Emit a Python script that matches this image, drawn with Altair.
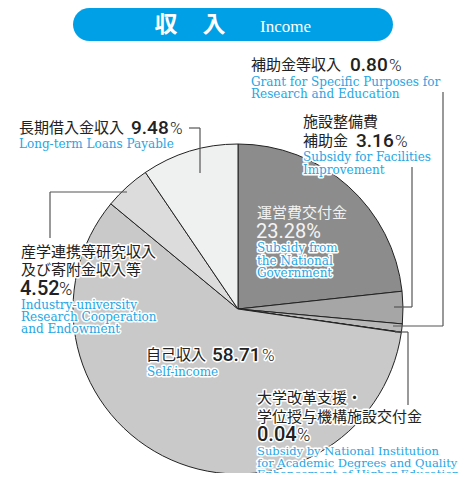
import altair as alt
import pandas as pd

# ---- data ----
cats_jp = ["運営費交付金", "施設整備費補助金", "補助金等収入", "大学改革支援・学位授与機構施設交付金",
           "自己収入", "産学連携等研究収入及び寄附金収入等", "長期借入金収入"]
values = [23.28, 3.16, 0.80, 0.04, 58.71, 4.52, 9.48]
colors = ["#8c8c8c", "#a6a6a6", "#b9b9b9", "#bdbdbd", "#c9c9c9", "#dcdcdc", "#eff0f0"]

pie_df = pd.DataFrame({"cat": cats_jp, "value": values, "order": list(range(len(values)))})

OX, OY = 8, 8  # page margin offset
CX, CY, R = 238 - OX, 309 - OY, 165

BLUE = "#25a6e4"
JP = "Noto Sans CJK JP"
NUM = "Roboto"
SERIF = "DejaVu Serif"
ES = 12  # english font size

one = pd.DataFrame({"a": [0]})
layers = []


def text(s, x, y, size, color, font, weight="normal", halo=False, align="left", baseline="middle"):
    kw = dict(text=s, fontSize=size, font=font, fontWeight=weight, align=align, baseline=baseline)
    enc = dict(x=alt.value(x - OX), y=alt.value(y - OY))
    if halo:
        layers.append(alt.Chart(one).mark_text(fill="white", stroke="white", strokeWidth=3,
                                               strokeJoin="round", **kw).encode(**enc))
    layers.append(alt.Chart(one).mark_text(fill=color, **kw).encode(**enc))


def rule(x1, y1, x2, y2):
    layers.append(alt.Chart(one).mark_rule(color="#555555", strokeWidth=1.2).encode(
        x=alt.value(x1 - OX), x2=alt.value(x2 - OX), y=alt.value(y1 - OY), y2=alt.value(y2 - OY)))


# title banner
layers.append(alt.Chart(one).mark_rect(color="#00a0e6", cornerRadius=17).encode(
    x=alt.value(73 - OX), x2=alt.value(393 - OX), y=alt.value(0), y2=alt.value(41 - OY)))
text("収", 166, 25, 23, "white", JP, weight="bold", align="center")
text("入", 214, 25, 23, "white", JP, weight="bold", align="center")
text("Income", 260, 27, 17, "white", "Liberation Serif")

# pie
pie = alt.Chart(pie_df).mark_arc(outerRadius=R, stroke="#222222", strokeWidth=1).encode(
    theta=alt.Theta("value:Q", stack=True),
    order=alt.Order("order:Q"),
    color=alt.Color("cat:N", scale=alt.Scale(domain=cats_jp, range=colors), legend=None),
    x=alt.value(CX), y=alt.value(CY),
)
layers.append(pie)

pct = [f"{v:.2f}" for v in values]

# leader lines
rule(443, 92, 443, 326)
rule(393, 326, 443, 326)
rule(412, 167, 412, 307)
rule(394, 307, 412, 307)
rule(395, 332, 408, 332)
rule(408, 332, 408, 405)
rule(189, 128, 200, 128)
rule(200, 128, 200, 173)
rule(50, 192, 127, 192)
rule(50, 192, 50, 238)

DK = "#222222"

# 補助金等収入
text("補助金等収入", 251, 65, 15, DK, JP)
text(pct[2], 350, 65, 19, DK, NUM, weight=500)
text("%", 389, 66, 17, DK, NUM, weight=300)
text("Grant for Specific Purposes for", 251, 82, ES, BLUE, SERIF)
text("Research and Education", 251, 94, ES, BLUE, SERIF)

# 長期借入金収入
text("長期借入金収入", 19, 128, 15, DK, JP)
text(pct[6], 131, 128, 19, DK, NUM, weight=500)
text("%", 170, 129, 17, DK, NUM, weight=300)
text("Long-term Loans Payable", 19, 144, ES, BLUE, SERIF)

# 施設整備費補助金
text("施設整備費", 303, 122, 15, DK, JP)
text("補助金", 303, 141, 15, DK, JP)
text(pct[1], 356, 141, 19, DK, NUM, weight=500)
text("%", 395, 142, 17, DK, NUM, weight=300)
text("Subsidy for Facilities", 303, 157, ES, BLUE, SERIF, halo=True)
text("Improvement", 303, 170, ES, BLUE, SERIF, halo=True)

# 運営費交付金
text("運営費交付金", 257, 213, 15, "#f2f2f2", JP)
text(pct[0] + "%", 256, 232, 20, "#f4f4f4", NUM, weight="normal")
text("Subsidy from", 257, 248, ES, BLUE, SERIF, halo=True)
text("the National", 257, 261, ES, BLUE, SERIF, halo=True)
text("Government", 257, 273, ES, BLUE, SERIF, halo=True)

# 産学連携
text("産学連携等研究収入", 21, 252, 15, DK, JP, halo=True)
text("及び寄附金収入等", 21, 270, 15, DK, JP, halo=True)
text(pct[5], 20, 289, 20, DK, NUM, weight=500, halo=True)
text("%", 59, 290, 18, DK, NUM, weight=300, halo=True)
text("Industry-university", 21, 305, ES, BLUE, SERIF, halo=True)
text("Research Cooperation", 21, 317, ES, BLUE, SERIF, halo=True)
text("and Endowment", 21, 329, ES, BLUE, SERIF, halo=True)

# 自己収入
text("自己収入", 146, 355, 15, DK, JP, halo=True)
text(pct[4], 212, 355, 19, DK, NUM, weight=500, halo=True)
text("%", 262, 356, 17, DK, NUM, weight=300, halo=True)
text("Self-income", 147, 372, ES, BLUE, SERIF, halo=True)

# 大学改革支援
text("大学改革支援・", 257, 398, 15, DK, JP, halo=True)
text("学位授与機構施設交付金", 257, 417, 15, DK, JP, halo=True)
text(pct[3], 257, 435, 20, DK, NUM, weight=500, halo=True)
text("%", 297, 436, 18, DK, NUM, weight=300, halo=True)
text("Subsidy by National Institution", 257, 452, 11.5, BLUE, SERIF, halo=True)
text("for Academic Degrees and Quality", 257, 464, 11.5, BLUE, SERIF, halo=True)
text("Enhancement of Higher Education", 257, 475, 11.5, BLUE, SERIF, halo=True)

chart = alt.layer(*layers).properties(
    width=453, height=465, padding=0,
    autosize=alt.AutoSizeParams(type="none"),
).configure_view(stroke=None)

chart.save("out.html", embed_options={"renderer": "svg", "actions": False})
